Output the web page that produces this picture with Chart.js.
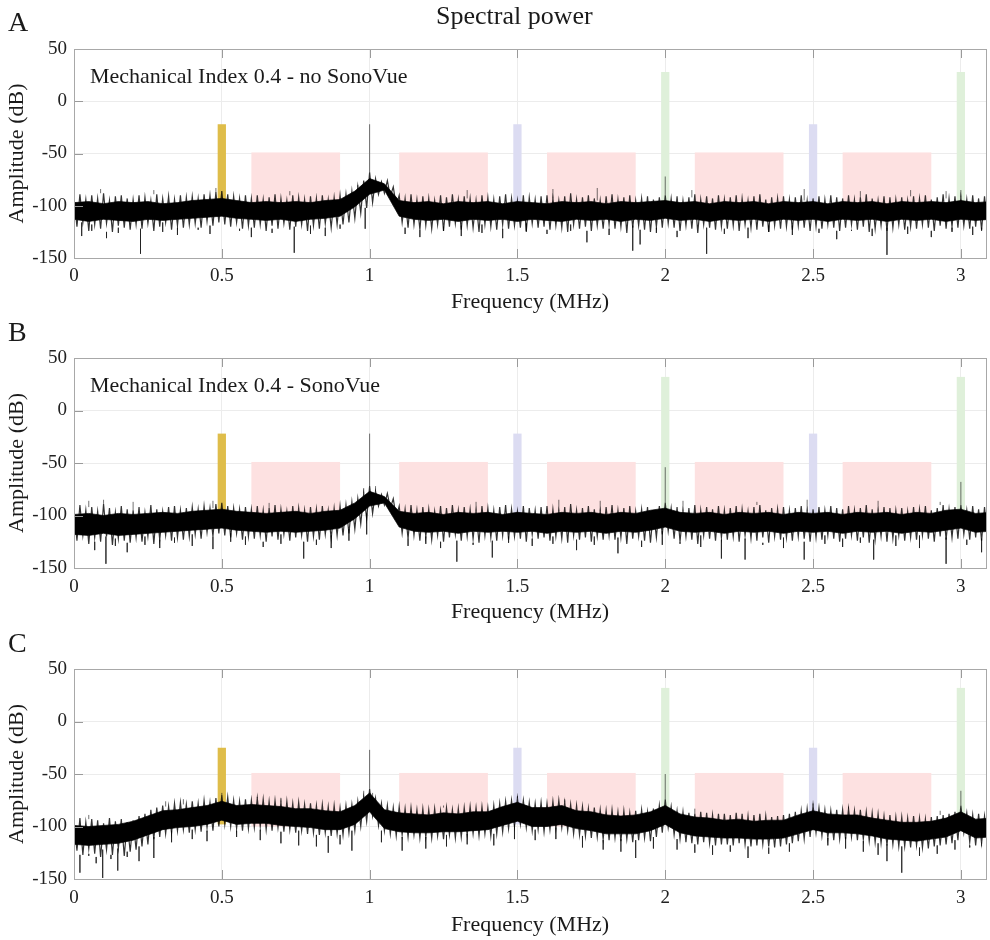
<!DOCTYPE html>
<html>
<head>
<meta charset="utf-8">
<title>Spectral power</title>
<script src="https://cdn.jsdelivr.net/npm/chart.js@4.4.0/dist/chart.umd.min.js"></script>
<style>
  body { margin: 0; background: #fff; }
  #page { position: relative; width: 990px; height: 940px; overflow: hidden;
          font-family: 'Liberation Serif', 'Times New Roman', serif; color: #1a1a1a; }
  .panel { position: absolute; left: 0; width: 990px; height: 320px; }
  .txt { position: absolute; line-height: 1; white-space: nowrap; }
</style>
</head>
<body>
<div id="page">
  <canvas id="chartA" class="panel" style="top:0px" width="990" height="320"></canvas>
  <canvas id="chartB" class="panel" style="top:310px" width="990" height="320"></canvas>
  <canvas id="chartC" class="panel" style="top:620px" width="990" height="320"></canvas>

  <div class="txt" style="left:436px; top:3px; font-size:26px;">Spectral power</div>
  <div class="txt" style="left:8px; top:8px; font-size:28px;">A</div>
  <div class="txt" style="left:8px; top:318px; font-size:28px;">B</div>
  <div class="txt" style="left:8px; top:629px; font-size:28px;">C</div>
  <div class="txt" style="left:90px; top:65px; font-size:22px;">Mechanical Index 0.4 - no SonoVue</div>
  <div class="txt" style="left:90px; top:374px; font-size:22px;">Mechanical Index 0.4 - SonoVue</div>
</div>

<script>
// ============================================
// DATA
// ============================================
// noise peaks / troughs read every 0.02 MHz (0 .. 3.08 MHz)
const FREQ_STEP = 0.02;
// dense core of the noise band read every 0.05 MHz (0 .. 3.10 MHz)
const CORE_STEP = 0.05;
const X_MAX = 3.085;
const xTicks = [0, 0.5, 1, 1.5, 2, 2.5, 3];
const yTicks = [-150, -100, -50, 0, 50];

// analysis windows (MHz)
const subHarmonicF = [0.5];
const ultraHarmonicF = [1.5, 2.5];
const harmonicF = [2, 3];
const broadbandBands = [[0.6, 0.9], [1.1, 1.4], [1.6, 1.9], [2.1, 2.4], [2.6, 2.9]];
// window heights (dB) for panels A, B, C
const subTop = [-22, -22, -25];
const ultraTop = [-22, -22, -25];
const harmTop = [28, 32, 32];
const windowBottom = -98;
const broadbandTop = -49;
const broadbandBottom = -100;

// ---------- Panel A ----------
const peaksA = [
  -92,-89,-94,-90,-93,-88,-95,-91,-90,-93,
  -94,-90,-92,-95,-89,-93,-91,-94,-90,-92,
  -91,-93,-89,-90,-87,-86,-89,-91,-93,-90,
  -93,-90,-94,-92,-89,-93,-95,-90,-92,-94,
  -91,-93,-90,-94,-92,-90,-89,-86,-82,-76,
  -68,-74,-77,-76,-82,-90,-93,-89,-94,-91,
  -93,-95,-90,-92,-89,-94,-91,-93,-95,-90,
  -92,-94,-91,-89,-93,-95,-90,-92,-94,-91,
  -90,-93,-95,-91,-88,-94,-92,-90,-93,-95,
  -91,-89,-94,-92,-90,-95,-93,-91,-94,-92,
  -90,-93,-91,-95,-92,-89,-94,-91,-93,-90,
  -94,-92,-90,-93,-95,-91,-89,-94,-92,-93,
  -91,-94,-92,-90,-95,-93,-91,-94,-90,-92,
  -93,-90,-94,-92,-89,-93,-95,-91,-92,-94,
  -92,-95,-91,-93,-90,-94,-92,-89,-93,-91,
  -92,-94,-90,-93,-91
];
const troughsA = [
  -120,-116,-124,-118,-122,-117,-125,-119,-121,-123,
  -118,-122,-117,-124,-120,-116,-123,-119,-121,-118,
  -117,-121,-115,-119,-116,-118,-120,-116,-122,-119,
  -121,-118,-124,-119,-122,-117,-123,-120,-118,-124,
  -119,-122,-117,-121,-118,-118,-116,-112,-107,-102,
  -97,-89,-88,-91,-100,-116,-121,-118,-123,-119,
  -122,-118,-124,-120,-117,-123,-119,-121,-125,-118,
  -120,-123,-118,-122,-119,-121,-124,-117,-121,-120,
  -123,-119,-121,-125,-118,-122,-120,-124,-119,-122,
  -118,-122,-120,-126,-121,-119,-123,-125,-120,-121,
  -117,-121,-124,-119,-122,-126,-118,-121,-123,-120,
  -122,-119,-124,-118,-121,-123,-120,-125,-119,-122,
  -120,-123,-119,-121,-124,-120,-122,-118,-121,-124,
  -121,-118,-123,-120,-125,-122,-119,-124,-121,-118,
  -123,-120,-122,-118,-121,-124,-119,-122,-120,-121,
  -119,-122,-120,-123,-121
];
const coreHiA = [
  -97,-96,-98,-96,-97,-96,-98,-97,-95,-94,
  -93,-95,-97,-96,-97,-96,-97,-95,-94,-86,
  -74,-79,-95,-97,-96,-98,-96,-97,-96,-98,
  -96,-97,-98,-96,-97,-96,-98,-96,-97,-96,
  -95,-97,-96,-98,-96,-97,-96,-98,-96,-97,
  -96,-98,-96,-97,-96,-98,-96,-97,-96,-97,
  -95,-97,-96
];
const coreLoA = [
  -113,-115,-113,-114,-115,-113,-114,-113,-112,-111,
  -110,-112,-113,-114,-113,-115,-113,-112,-110,-101,
  -89,-85,-110,-113,-114,-113,-115,-113,-114,-113,
  -115,-113,-114,-115,-113,-114,-113,-115,-113,-114,
  -112,-114,-113,-115,-113,-114,-113,-115,-113,-114,
  -113,-115,-113,-114,-113,-115,-113,-114,-113,-115,
  -113,-114,-113
];
// isolated spikes: frequency (MHz) and tip level (dB)
const spikeFA = [1.0, 0.96, 2.0, 3.0, 0.09, 0.27, 0.48, 0.73, 1.33, 1.62, 1.77, 2.09, 2.47, 2.66, 2.83, 2.95,
  0.026, 0.06, 0.11, 0.15, 0.225, 0.3, 0.35, 0.42, 0.46, 0.56, 0.6, 0.67, 0.745, 0.8, 0.85, 0.9, 0.985,
  1.12, 1.17, 1.25, 1.31, 1.38, 1.45, 1.53, 1.6, 1.68, 1.735, 1.81, 1.89, 1.915, 1.97, 2.04, 2.14, 2.2,
  2.28, 2.35, 2.43, 2.52, 2.58, 2.63, 2.7, 2.75, 2.82, 2.9, 2.97, 3.04, 3.07];
const spikeDbA = [-22, -80, -72, -85, -84, -85, -83, -86, -85, -84, -83, -85, -84, -86, -85, -86,
  -129, -124, -131, -126, -146, -125, -128, -123, -127, -124, -130, -126, -145, -127, -129, -122, -122,
  -127, -130, -124, -129, -126, -131, -125, -127, -124, -135, -128, -143, -137, -126, -130, -146, -127,
  -131, -125, -128, -126, -132, -124, -129, -147, -127, -130, -125, -128, -124];

// ---------- Panel B ----------
const peaksB = [
  -94,-90,-95,-92,-96,-89,-93,-97,-91,-94,
  -95,-92,-97,-90,-94,-96,-92,-91,-95,-93,
  -92,-94,-91,-93,-89,-88,-91,-93,-94,-92,
  -94,-91,-95,-93,-90,-94,-96,-91,-93,-95,
  -92,-94,-91,-95,-93,-91,-90,-87,-84,-79,
  -72,-77,-80,-79,-84,-91,-94,-90,-95,-92,
  -94,-96,-91,-93,-90,-95,-92,-94,-96,-91,
  -93,-95,-92,-90,-94,-96,-91,-93,-95,-92,
  -91,-94,-96,-92,-89,-95,-93,-91,-94,-96,
  -92,-90,-95,-93,-91,-96,-94,-92,-95,-91,
  -88,-93,-92,-96,-93,-90,-95,-92,-94,-91,
  -95,-93,-91,-94,-96,-92,-90,-95,-93,-94,
  -92,-95,-93,-91,-96,-94,-92,-95,-91,-93,
  -94,-91,-95,-93,-90,-94,-96,-92,-93,-95,
  -93,-96,-92,-94,-91,-95,-93,-90,-94,-92,
  -90,-95,-91,-94,-92
];
const troughsB = [
  -124,-119,-127,-121,-125,-120,-128,-122,-124,-126,
  -121,-125,-120,-127,-123,-119,-124,-121,-123,-120,
  -118,-122,-116,-120,-117,-119,-121,-117,-123,-120,
  -122,-119,-125,-120,-123,-118,-124,-121,-119,-125,
  -120,-123,-118,-122,-119,-119,-117,-113,-108,-103,
  -98,-91,-90,-93,-102,-117,-122,-119,-124,-120,
  -123,-119,-125,-121,-118,-124,-120,-122,-126,-119,
  -121,-124,-119,-123,-120,-122,-125,-118,-122,-121,
  -124,-120,-122,-126,-119,-123,-121,-125,-120,-123,
  -119,-123,-121,-127,-122,-120,-124,-126,-121,-118,
  -115,-122,-125,-120,-123,-127,-119,-122,-124,-121,
  -123,-120,-125,-119,-122,-124,-121,-126,-120,-123,
  -121,-124,-120,-122,-125,-121,-123,-119,-122,-125,
  -122,-119,-124,-121,-126,-123,-120,-125,-122,-119,
  -124,-121,-123,-119,-122,-125,-120,-123,-121,-122,
  -118,-123,-121,-124,-122
];
const coreHiB = [
  -99,-98,-100,-98,-99,-98,-97,-98,-96,-95,
  -94,-96,-97,-98,-97,-96,-98,-96,-95,-88,
  -77,-82,-96,-98,-97,-99,-97,-98,-97,-99,
  -97,-98,-99,-97,-98,-97,-99,-97,-98,-95,
  -93,-97,-98,-97,-99,-97,-98,-97,-99,-97,
  -98,-97,-99,-97,-98,-97,-99,-97,-98,-95,
  -94,-98,-97
];
const coreLoB = [
  -118,-119,-117,-119,-118,-117,-116,-115,-114,-113,
  -112,-114,-115,-116,-115,-116,-115,-114,-112,-103,
  -91,-88,-111,-115,-116,-115,-117,-115,-116,-115,
  -116,-115,-117,-115,-116,-115,-117,-115,-116,-114,
  -111,-115,-116,-115,-117,-115,-116,-115,-117,-115,
  -116,-115,-117,-115,-116,-115,-117,-115,-116,-114,
  -112,-116,-115
];
const spikeFB = [1.0, 0.98, 1.02, 2.0, 3.0, 0.05, 0.1, 0.2, 0.47, 0.66, 1.36, 1.64, 1.78, 2.06, 2.31, 2.48, 2.72, 2.93,
  0.03, 0.07, 0.108, 0.14, 0.18, 0.24, 0.29, 0.34, 0.4, 0.47, 0.53, 0.58, 0.64, 0.7, 0.777, 0.82, 0.87, 0.93,
  0.99, 1.13, 1.19, 1.24, 1.295, 1.35, 1.415, 1.47, 1.55, 1.62, 1.7, 1.76, 1.84, 1.92, 1.99, 2.05, 2.12,
  2.19, 2.27, 2.33, 2.4, 2.47, 2.54, 2.6, 2.66, 2.705, 2.78, 2.86, 2.95, 3.02, 3.07];
const spikeDbB = [-22, -74, -72, -54, -68, -86, -85, -87, -86, -88, -87, -85, -86, -86, -87, -85, -86, -87,
  -127, -133, -146, -129, -135, -128, -131, -126, -129, -132, -125, -128, -130, -127, -141, -128, -131, -124,
  -118, -129, -127, -131, -144, -128, -140, -126, -129, -127, -133, -128, -136, -130, -128, -127, -130,
  -141, -142, -128, -131, -142, -127, -130, -126, -142, -129, -131, -146, -128, -135];

// ---------- Panel C ----------
const peaksC = [
  -95,-92,-96,-93,-94,-97,-92,-95,-93,-96,
  -94,-90,-88,-84,-82,-80,-81,-78,-77,-79,
  -76,-78,-75,-77,-73,-70,-72,-75,-76,-74,
  -75,-73,-74,-76,-75,-77,-76,-78,-77,-79,
  -78,-80,-79,-81,-80,-82,-80,-79,-76,-72,
  -64,-73,-78,-80,-82,-81,-83,-82,-84,-83,
  -84,-83,-85,-82,-84,-83,-82,-81,-82,-81,
  -82,-80,-78,-76,-75,-73,-75,-77,-78,-77,
  -78,-76,-75,-77,-79,-80,-81,-83,-82,-84,
  -85,-84,-86,-85,-87,-85,-84,-86,-83,-80,
  -74,-81,-85,-86,-87,-88,-86,-87,-89,-88,
  -88,-89,-87,-88,-90,-89,-88,-90,-91,-90,
  -89,-88,-86,-85,-83,-80,-82,-84,-85,-84,
  -84,-83,-85,-84,-86,-87,-88,-90,-89,-91,
  -91,-92,-90,-92,-93,-91,-90,-89,-88,-86,
  -80,-87,-89,-88,-90
];
const troughsC = [
  -123,-127,-121,-126,-129,-122,-127,-121,-128,-124,
  -122,-119,-117,-112,-110,-107,-106,-104,-103,-106,
  -103,-105,-101,-104,-100,-98,-100,-102,-104,-102,
  -101,-100,-103,-104,-101,-105,-103,-106,-104,-107,
  -106,-108,-106,-109,-107,-108,-106,-104,-100,-95,
  -90,-99,-104,-107,-109,-108,-110,-108,-111,-110,
  -111,-109,-112,-108,-111,-110,-108,-107,-109,-107,
  -109,-107,-105,-102,-100,-98,-101,-104,-103,-105,
  -103,-102,-101,-104,-107,-108,-109,-111,-110,-112,
  -113,-111,-114,-112,-115,-113,-111,-114,-110,-106,
  -101,-108,-112,-115,-116,-117,-115,-116,-118,-117,
  -117,-118,-116,-117,-119,-118,-117,-119,-120,-119,
  -117,-116,-114,-112,-110,-106,-109,-111,-113,-112,
  -112,-110,-113,-112,-114,-115,-116,-118,-117,-119,
  -119,-120,-118,-120,-121,-119,-118,-117,-116,-113,
  -106,-115,-118,-116,-119
];
const coreHiC = [
  -99,-100,-99,-98,-95,-90,-85,-84,-82,-80,
  -76,-80,-79,-80,-81,-83,-83,-85,-86,-80,
  -68,-84,-87,-88,-89,-87,-88,-86,-86,-81,
  -77,-82,-82,-80,-85,-86,-89,-90,-89,-86,
  -80,-88,-91,-92,-94,-93,-95,-94,-94,-89,
  -85,-88,-89,-89,-92,-94,-96,-96,-95,-92,
  -86,-93,-92
];
const coreLoC = [
  -117,-118,-117,-116,-113,-108,-103,-101,-100,-98,
  -94,-98,-97,-97,-99,-100,-101,-103,-103,-98,
  -86,-102,-105,-106,-106,-105,-105,-104,-103,-99,
  -95,-100,-100,-98,-102,-104,-107,-107,-107,-104,
  -98,-106,-109,-110,-111,-111,-112,-112,-111,-107,
  -103,-106,-106,-107,-109,-112,-113,-114,-112,-110,
  -104,-111,-110
];
const spikeFC = [1.0, 0.98, 1.01, 0.5, 1.5, 2.0, 2.5, 3.0, 0.05, 0.31, 0.37, 0.62, 0.7, 1.25, 1.66, 2.1, 2.62, 2.93,
  0.02, 0.05, 0.075, 0.097, 0.125, 0.148, 0.18, 0.22, 0.27, 0.33, 0.4, 0.45, 0.55, 0.63, 0.7, 0.76, 0.82,
  0.86, 0.9, 0.94, 1.04, 1.11, 1.19, 1.26, 1.33, 1.42, 1.49, 1.56, 1.63, 1.72, 1.79, 1.85, 1.9, 1.96, 2.04,
  2.1, 2.16, 2.22, 2.28, 2.35, 2.42, 2.55, 2.61, 2.67, 2.72, 2.75, 2.8, 2.86, 2.92, 2.98, 3.03, 3.07];
const spikeDbC = [-27, -66, -68, -68, -71, -50, -78, -66, -89, -76, -74, -72, -73, -80, -74, -83, -81, -85,
  -144, -128, -135, -149, -131, -142, -129, -133, -130, -115, -112, -114, -110, -113, -116, -118, -119,
  -125, -117, -123, -115, -123, -121, -119, -117, -118, -112, -113, -112, -120, -122, -124, -130, -121, -122,
  -125, -127, -124, -130, -126, -124, -118, -121, -124, -127, -133, -144, -128, -126, -122, -120, -115];

// ============================================
// HELPERS
// ============================================
Chart.defaults.font.family = "'Liberation Serif', 'Times New Roman', serif";
Chart.defaults.color = '#1a1a1a';

function toPoints(values, step) {
  return values.map((v, i) => ({ x: +(i * step).toFixed(3), y: v }));
}

// noise trace: each peak followed by its trough half a step later
function noiseTrace(peaks, troughs) {
  const pts = [];
  peaks.forEach((v, i) => {
    pts.push({ x: +(i * FREQ_STEP).toFixed(3), y: v });
    pts.push({ x: +(i * FREQ_STEP + FREQ_STEP / 2).toFixed(3), y: troughs[i] });
  });
  return pts;
}

function spikePoints(freqs, tips, peaks, troughs) {
  const pts = [];
  freqs.forEach((f, k) => {
    const i = Math.min(peaks.length - 1, Math.round(f / FREQ_STEP));
    const base = tips[k] > peaks[i] ? peaks[i] : troughs[i];
    pts.push({ x: f, y: base }, { x: f, y: tips[k] }, { x: f, y: null });
  });
  return pts;
}

function windowBoxes(p) {
  const half = 0.014;
  const boxes = [];
  broadbandBands.forEach(([a, b]) => boxes.push({ from: a, to: b, top: broadbandTop, bottom: broadbandBottom, color: '#fde1e1' }));
  subHarmonicF.forEach(f => boxes.push({ from: f - half, to: f + half, top: subTop[p], bottom: windowBottom, color: '#dfbd4a' }));
  ultraHarmonicF.forEach(f => boxes.push({ from: f - half, to: f + half, top: ultraTop[p], bottom: windowBottom, color: '#dcdcf2' }));
  harmonicF.forEach(f => boxes.push({ from: f - half, to: f + half, top: harmTop[p], bottom: windowBottom, color: '#dff0da' }));
  return boxes;
}

// shaded windows under the trace, inner tick marks and frame on top
const axesDecor = {
  id: 'axesDecor',
  beforeDatasetsDraw(chart, args, opts) {
    const { ctx, scales: { x, y } } = chart;
    ctx.save();
    opts.boxes.forEach(b => {
      const x0 = x.getPixelForValue(b.from), x1 = x.getPixelForValue(b.to);
      const y0 = y.getPixelForValue(b.top), y1 = y.getPixelForValue(b.bottom);
      ctx.fillStyle = b.color;
      ctx.fillRect(x0, y0, x1 - x0, y1 - y0);
    });
    ctx.restore();
  },
  afterDatasetsDraw(chart) {
    const { ctx, chartArea: a, scales: { x, y } } = chart;
    ctx.save();
    ctx.strokeStyle = '#9a9a9a';
    ctx.lineWidth = 1;
    ctx.beginPath();
    x.ticks.forEach(t => {
      const px = Math.round(x.getPixelForValue(t.value)) + 0.5;
      ctx.moveTo(px, a.bottom); ctx.lineTo(px, a.bottom - 9);
      ctx.moveTo(px, a.top); ctx.lineTo(px, a.top + 9);
    });
    y.ticks.forEach(t => {
      const py = Math.round(y.getPixelForValue(t.value)) + 0.5;
      ctx.moveTo(a.left, py); ctx.lineTo(a.left + 9, py);
    });
    ctx.stroke();
    ctx.strokeStyle = '#a8a8a8';
    ctx.strokeRect(Math.round(a.left) + 0.5, Math.round(a.top) + 0.5,
      Math.round(a.right - a.left), Math.round(a.bottom - a.top));
    ctx.restore();
  }
};

function makePanel(id, p, s, lay) {
  const H = 320;
  return new Chart(document.getElementById(id), {
    type: 'line',
    data: {
      datasets: [
        { data: toPoints(s.coreLo, CORE_STEP), borderColor: 'rgba(0,0,0,0.7)', borderWidth: 1, pointRadius: 0, fill: false },
        { data: toPoints(s.coreHi, CORE_STEP), borderColor: 'rgba(0,0,0,0.7)', borderWidth: 1, pointRadius: 0,
          fill: '-1', backgroundColor: '#000' },
        { data: noiseTrace(s.peaks, s.troughs), borderColor: 'rgba(0,0,0,0.8)', borderWidth: 1.2, pointRadius: 0, fill: false },
        { data: spikePoints(s.spikeF, s.spikeDb, s.peaks, s.troughs), borderColor: 'rgba(20,20,20,0.6)', borderWidth: 1,
          pointRadius: 0, fill: false, spanGaps: false }
      ]
    },
    options: {
      responsive: false,
      animation: false,
      devicePixelRatio: 1,
      elements: { line: { tension: 0 } },
      layout: { padding: { left: 0, right: 4, top: lay.top, bottom: 0 } },
      plugins: {
        legend: { display: false },
        tooltip: { enabled: false },
        axesDecor: { boxes: windowBoxes(p) }
      },
      scales: {
        x: {
          type: 'linear', min: 0, max: X_MAX,
          afterBuildTicks: sc => { sc.ticks = xTicks.map(v => ({ value: v })); },
          afterFit: sc => { sc.height = H - lay.bottom; },
          ticks: { font: { size: 19 }, color: '#222', padding: lay.tickPad, maxRotation: 0, autoSkip: false,
                   callback: v => String(v) },
          grid: { color: '#ececec', drawTicks: false },
          border: { display: false },
          title: { display: true, text: 'Frequency (MHz)', font: { size: 22 }, color: '#1a1a1a',
                   padding: { top: 0, bottom: lay.titlePad } }
        },
        y: {
          min: -150, max: 50,
          afterBuildTicks: sc => { sc.ticks = yTicks.map(v => ({ value: v })); },
          afterFit: sc => { sc.width = 74; },
          ticks: { font: { size: 19 }, color: '#222', padding: 7, callback: v => String(v) },
          grid: { color: '#ececec', drawTicks: false },
          border: { display: false },
          title: { display: true, text: 'Amplitude (dB)', font: { size: 22 }, color: '#1a1a1a',
                   padding: { top: 4, bottom: 0 } }
        }
      }
    },
    plugins: [axesDecor]
  });
}

// ============================================
// INITIALIZATION
// ============================================
makePanel('chartA', 0,
  { peaks: peaksA, troughs: troughsA, coreHi: coreHiA, coreLo: coreLoA, spikeF: spikeFA, spikeDb: spikeDbA },
  { top: 49, bottom: 258, tickPad: 7, titlePad: 5 });
makePanel('chartB', 1,
  { peaks: peaksB, troughs: troughsB, coreHi: coreHiB, coreLo: coreLoB, spikeF: spikeFB, spikeDb: spikeDbB },
  { top: 48, bottom: 258, tickPad: 8, titlePad: 5 });
makePanel('chartC', 2,
  { peaks: peaksC, troughs: troughsC, coreHi: coreHiC, coreLo: coreLoC, spikeF: spikeFC, spikeDb: spikeDbC },
  { top: 49, bottom: 259, tickPad: 8, titlePad: 2 });
</script>
</body>
</html>
